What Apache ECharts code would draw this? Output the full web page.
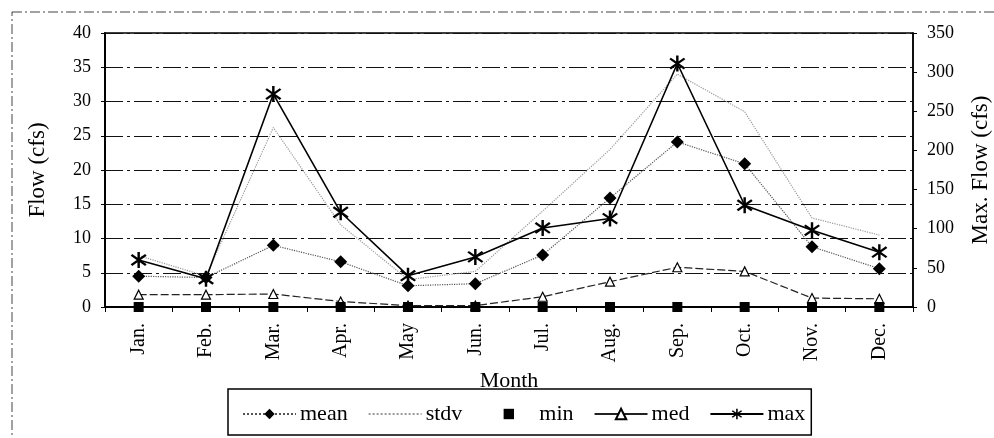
<!DOCTYPE html>
<html>
<head>
<meta charset="utf-8">
<script src="https://cdn.jsdelivr.net/npm/echarts@6/dist/echarts.min.js"></script>
<style>
html,body{margin:0;padding:0;background:#fff;}
#c{width:994px;height:438px;}
</style>
</head>
<body>
<div id="c"></div>
<script>
var months = ['Jan.','Feb.','Mar.','Apr.','May','Jun.','Jul.','Aug.','Sep.','Oct.','Nov.','Dec.'];
var meanVals = [4.5, 4.3, 9.0, 6.6, 3.1, 3.4, 7.6, 15.9, 24.1, 20.9, 8.8, 5.6];
var stdvVals = [7.5, 4.5, 26.2, 12.0, 4.0, 5.2, 14.0, 23.0, 34.0, 28.5, 13.0, 10.5];
var minVals  = [0, 0, 0, 0, 0, 0, 0, 0, 0, 0, 0, 0];
var medVals  = [1.8, 1.8, 1.9, 0.8, 0.2, 0.2, 1.5, 3.7, 5.8, 5.2, 1.3, 1.2];
var maxVals  = [60, 36, 272, 121, 40, 64, 101, 113, 311, 130, 98, 70];

var FONT = 'Liberation Serif';

// asterisk symbol: three thin bars
function bar(theta){
  var L = 10, w = 1.3;
  var dx = Math.sin(theta), dy = -Math.cos(theta);
  var nx = -dy, ny = dx;
  var p = [
    [ L*dx + w*nx,  L*dy + w*ny],
    [ L*dx - w*nx,  L*dy - w*ny],
    [-L*dx - w*nx, -L*dy - w*ny],
    [-L*dx + w*nx, -L*dy + w*ny]
  ];
  return 'M' + p.map(function(q){return (q[0]+10).toFixed(2)+' '+(q[1]+10).toFixed(2);}).join(' L') + ' Z';
}
var asterisk = 'path://' + bar(0) + ' ' + bar(Math.PI*0.28) + ' ' + bar(-Math.PI*0.28);

var chart = echarts.init(document.getElementById('c'), null, {renderer:'canvas'});
chart.setOption({
  animation: false,
  backgroundColor: '#fff',
  textStyle: {fontFamily: FONT, color: '#000'},
  graphic: [{
    type: 'rect', shape: {x: 12, y: 12, width: 1000, height: 460},
    style: {fill: 'none', stroke: '#444', lineWidth: 1, lineDash: [10, 3, 2, 3]}, silent: true, z: -1
  }],
  grid: {left: 105, right: 81, top: 33, bottom: 131, outerBoundsMode: 'none', containLabel: false,
         show: true, borderColor: '#000', borderWidth: 1.5, backgroundColor: 'transparent'},
  legend: {
    left: 228, top: 389,
    padding: [14, 6, 10, 14],
    borderColor: '#000', borderWidth: 1.5,
    itemWidth: 53, itemHeight: 13, itemGap: 20,
    textStyle: {fontFamily: FONT, fontSize: 22, color: '#000', padding: [0, 0, 0, -1]},
    data: [
      'mean',
      {name: 'stdv', itemStyle: {color: 'rgba(0,0,0,0)', borderWidth: 0}},
      'min',
      {name: 'med', lineStyle: {type: 'solid'}},
      'max'
    ]
  },
  xAxis: {
    type: 'category', data: months, boundaryGap: true,
    name: 'Month', nameLocation: 'middle', nameGap: 54,
    nameTextStyle: {fontFamily: FONT, fontSize: 22, color: '#000'},
    axisLine: {lineStyle: {color: '#000', width: 2}},
    axisTick: {show: true, inside: false, length: 5, lineStyle: {color: '#000'}},
    axisLabel: {rotate: 90, margin: 16, fontFamily: FONT, fontSize: 20, color: '#000'},
    splitLine: {show: false}
  },
  yAxis: [{
    type: 'value', min: 0, max: 40, interval: 5, position: 'left',
    name: 'Flow (cfs)', nameLocation: 'middle', nameGap: 56, nameRotate: 90,
    nameTextStyle: {fontFamily: FONT, fontSize: 23, color: '#000'},
    axisLine: {show: true, lineStyle: {color: '#000', width: 2}},
    axisTick: {show: true, length: 4, lineStyle: {color: '#000'}},
    axisLabel: {margin: 14, fontFamily: FONT, fontSize: 18, color: '#000'},
    splitLine: {show: true, lineStyle: {color: '#111', width: 1, type: [18, 4, 3, 4]}}
  }, {
    type: 'value', min: 0, max: 350, interval: 50, position: 'right',
    name: 'Max. Flow (cfs)', nameLocation: 'middle', nameGap: 56, nameRotate: 90,
    nameTextStyle: {fontFamily: FONT, fontSize: 23, color: '#000'},
    axisLine: {show: true, lineStyle: {color: '#000', width: 1.5}},
    axisTick: {show: true, length: 4, lineStyle: {color: '#000'}},
    axisLabel: {margin: 14, fontFamily: FONT, fontSize: 18, color: '#000'},
    splitLine: {show: false}
  }],
  series: [{
    name: 'mean', type: 'line', data: meanVals, yAxisIndex: 0,
    symbol: 'diamond', symbolSize: 13,
    itemStyle: {color: '#000'},
    lineStyle: {color: '#555', width: 1.2, type: 'dotted'}, z: 4
  }, {
    name: 'stdv', type: 'line', data: stdvVals, yAxisIndex: 0,
    symbol: 'none',
    itemStyle: {color: '#999'},
    lineStyle: {color: '#999', width: 1.2, type: 'dotted'}, z: 2
  }, {
    name: 'min', type: 'line', data: minVals, yAxisIndex: 0,
    symbol: 'rect', symbolSize: 10,
    itemStyle: {color: '#000'},
    lineStyle: {width: 0, opacity: 0}, z: 5
  }, {
    name: 'med', type: 'line', data: medVals, yAxisIndex: 0,
    symbol: 'triangle', symbolSize: 9,
    itemStyle: {color: '#fff', borderColor: '#000', borderWidth: 1.2},
    lineStyle: {color: '#222', width: 1.2, type: [8, 3]}, z: 4
  }, {
    name: 'max', type: 'line', data: maxVals, yAxisIndex: 1,
    symbol: asterisk, symbolSize: 16,
    itemStyle: {color: '#000'},
    lineStyle: {color: '#000', width: 1.6}, z: 6
  }]
});
</script>
</body>
</html>
